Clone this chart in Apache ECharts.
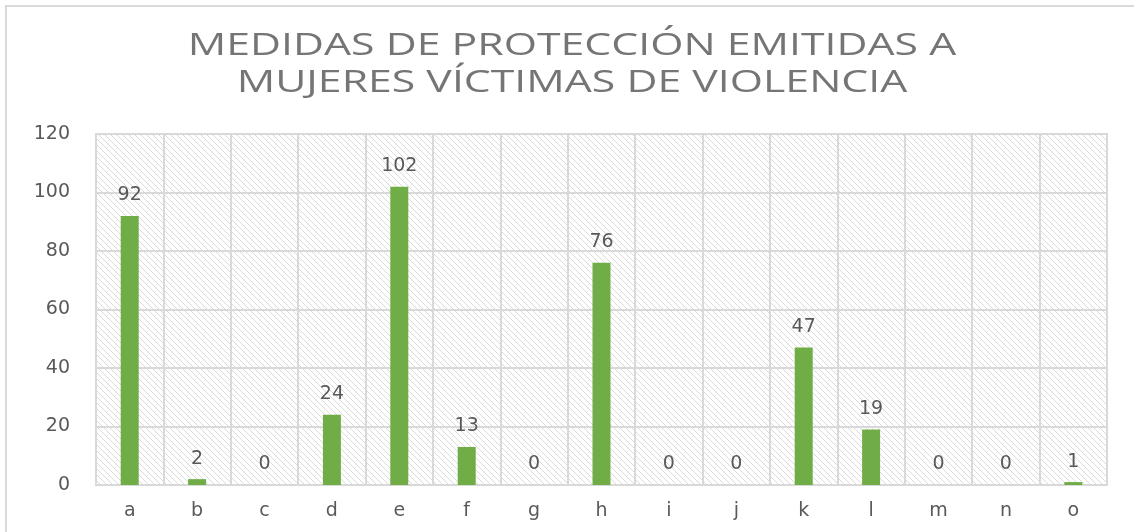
<!DOCTYPE html>
<html>
<head>
<meta charset="utf-8">
<script src="https://cdn.jsdelivr.net/npm/echarts@6/dist/echarts.min.js"></script>
<style>
    html, body { margin: 0; padding: 0; background: #fff; }
    #chart { width: 1134px; height: 532px; }
</style>
</head>
<body>
<div id="chart"></div>
<script>
var titleLines = ['MEDIDAS DE PROTECCIÓN EMITIDAS A', 'MUJERES VÍCTIMAS DE VIOLENCIA'];
var categories = ['a', 'b', 'c', 'd', 'e', 'f', 'g', 'h', 'i', 'j', 'k', 'l', 'm', 'n', 'o'];
var medidas = [92, 2, 0, 24, 102, 13, 0, 76, 0, 0, 47, 19, 0, 0, 1];

// hatch pattern for the plot background
function makeHatch() {
    var size = 6;
    var c = document.createElement('canvas');
    c.width = size;
    c.height = size;
    var ctx = c.getContext('2d');
    ctx.strokeStyle = '#dadada';
    ctx.lineWidth = 1;
    ctx.beginPath();
    ctx.moveTo(-1, -1); ctx.lineTo(size + 1, size + 1);
    ctx.moveTo(-1, size - 1); ctx.lineTo(1, size + 1);
    ctx.moveTo(size - 1, -1); ctx.lineTo(size + 1, 1);
    ctx.stroke();
    return c;
}

var chart = echarts.init(document.getElementById('chart'));
var font = '"DejaVu Sans", sans-serif';
var titleFont = '"Open Sans", sans-serif';

// title drawn as graphic text so it can be stretched like the original
var titleGraphics = titleLines.map(function (line, i) {
    return {
        type: 'text',
        x: 572,
        y: 46 + i * 37,
        scaleX: 1.38,
        silent: true,
        style: {
            text: line,
            fill: '#757575',
            font: '31px ' + titleFont,
            align: 'center',
            verticalAlign: 'middle'
        }
    };
});

chart.setOption({
    animation: false,
    backgroundColor: '#fff',
    graphic: [{
        type: 'rect',
        shape: { x: 6, y: 6, width: 1140, height: 540 },
        style: { fill: 'none', stroke: '#d9d9d9', lineWidth: 2 },
        silent: true
    }].concat(titleGraphics),
    grid: {
        left: 96,
        top: 134,
        width: 1011,
        height: 351,
        show: true,
        backgroundColor: { image: makeHatch(), repeat: 'repeat' },
        borderColor: '#d9d9d9',
        borderWidth: 2
    },
    xAxis: {
        type: 'category',
        data: categories,
        axisTick: { show: false },
        axisLine: { lineStyle: { color: '#d9d9d9', width: 2 } },
        splitLine: { show: true, lineStyle: { color: '#d9d9d9', width: 2 } },
        axisLabel: {
            color: '#595959',
            fontFamily: font,
            fontSize: 19,
            margin: 17
        }
    },
    yAxis: {
        type: 'value',
        min: 0,
        max: 120,
        interval: 20,
        axisLine: { show: false },
        axisTick: { show: false },
        splitLine: { lineStyle: { color: '#d9d9d9', width: 2 } },
        axisLabel: {
            color: '#595959',
            fontFamily: font,
            fontSize: 19,
            margin: 26
        }
    },
    series: [{
        type: 'bar',
        data: medidas,
        barWidth: 18,
        itemStyle: { color: '#70ad47' },
        label: {
            show: true,
            position: 'top',
            distance: 11,
            color: '#595959',
            fontFamily: font,
            fontSize: 19
        }
    }]
});
</script>
</body>
</html>
